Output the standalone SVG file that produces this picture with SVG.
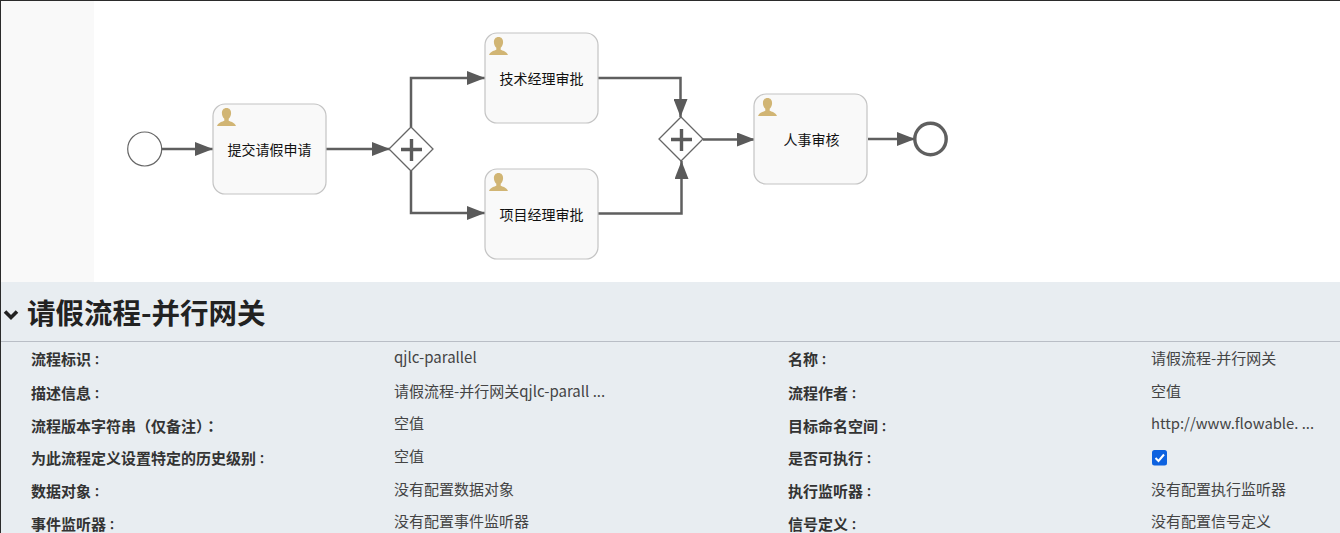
<svg xmlns="http://www.w3.org/2000/svg" width="1340" height="533" viewBox="0 0 1340 533">
<style>
text{font-family:"Noto Sans CJK SC","Noto Sans",sans-serif}
.task{fill:#f9f9f9;stroke:#c4c4c4;stroke-width:1.2}
.tl{font-size:14px;fill:#111;text-anchor:middle}
.gw{fill:#fff;stroke:#666;stroke-width:1.3}
.plus{stroke:#5a5a5a;stroke-width:3.4;fill:none}
.conn{fill:none;stroke:#5f5f5f;stroke-width:2.500}
.user{fill:#d1b574}
.k{font-size:15px;font-weight:700;fill:#333}
.v{font-size:15px;fill:#444}
.p{font-family:"Noto Sans CJK TC",sans-serif}
.c{font-family:"Noto Sans CJK TC",sans-serif;font-size:12px}
</style>
<defs>
<marker id="arr" markerUnits="userSpaceOnUse" markerWidth="19" markerHeight="14" refX="18" refY="7" orient="auto"><path d="M0 0L18 7L0 14Z" fill="#5a5a5a"/></marker>
<symbol id="u" viewBox="0 0 19 19" width="19" height="19"><path d="M9.500 0c3 0 4.600 2.300 4.600 5 0 2.400-1 4.600-2.400 5.700v2c1.500 1 6 1.500 7.300 5.300H0c1.300-3.800 5.800-4.300 7.300-5.300v-2C5.900 9.600 4.900 7.400 4.900 5c0-2.700 1.600-5 4.600-5z" class="user"/></symbol>
</defs>
<rect width="1340" height="533" fill="#fff"/>
<rect x="1" y="1" width="93" height="281" fill="#f9f9f9"/>
<rect x="1" y="282" width="1339" height="251" fill="#e8edf1"/>
<rect x="0" y="341" width="1340" height="1" fill="#b9bec6"/>
<rect x="0" y="0" width="1340" height="1" fill="#2b2b2b"/>
<rect x="0" y="0" width="1" height="533" fill="#2b2b2b"/>
<g id="connectors">
<path class="conn" marker-end="url(#arr)" d="M162 149H213"/>
<path class="conn" marker-end="url(#arr)" d="M326 149H390"/>
<path class="conn" marker-end="url(#arr)" d="M411 127V78H485"/>
<path class="conn" marker-end="url(#arr)" d="M411 171V213H485"/>
<path class="conn" marker-end="url(#arr)" d="M598 78H680.500V117"/>
<path class="conn" marker-end="url(#arr)" d="M598 213.500H681.500V161"/>
<path class="conn" marker-end="url(#arr)" d="M703 139.500H755"/>
<path class="conn" marker-end="url(#arr)" d="M868 139H915"/>
</g>
<g id="start"><circle cx="144.700" cy="149" r="17" fill="#fff" stroke="#666" stroke-width="1.200"/></g>
<g id="task1"><rect class="task" x="213" y="104" width="113" height="90" rx="12"/><use href="#u" x="217" y="108"/><text class="tl" x="269.500" y="154.500">提交请假申请</text></g>
<g id="gateway1"><path class="gw" d="M411 127L433 149L411 171L389 149Z"/><path class="plus" d="M411.500 139V161M401 149.500H422"/></g>
<g id="task2"><rect class="task" x="485" y="33" width="113" height="90" rx="12"/><use href="#u" x="489" y="37"/><text class="tl" x="541.500" y="83.500">技术经理审批</text></g>
<g id="task3"><rect class="task" x="485" y="169" width="113" height="90" rx="12"/><use href="#u" x="489" y="173"/><text class="tl" x="541.500" y="219.500">项目经理审批</text></g>
<g id="gateway2"><path class="gw" d="M681 117L703 139L681 161L659 139Z"/><path class="plus" d="M681.500 129V151M671 139.500H692"/></g>
<g id="task4"><rect class="task" x="754" y="94" width="113" height="90" rx="12"/><use href="#u" x="758" y="98"/><text class="tl" x="811.500" y="145">人事审核</text></g>
<g id="end"><circle cx="930.500" cy="139" r="15.700" fill="#fff" stroke="#5f5f5f" stroke-width="3.400"/></g>
<path d="M5 311.500L11 317.500L17 311.500" fill="none" stroke="#222" stroke-width="3.600"/>
<text x="27" y="324" font-size="28.500" font-weight="700" fill="#222">请假流程-并行网关</text>
<text class="k" x="31" y="365">流程标识<tspan class="c">：</tspan></text>
<text class="k" x="31" y="399">描述信息<tspan class="c">：</tspan></text>
<text class="k" x="31" y="432">流程版本字符串<tspan class="p">（</tspan>仅备注<tspan class="p">）：</tspan></text>
<text class="k" x="31" y="464">为此流程定义设置特定的历史级别<tspan class="c">：</tspan></text>
<text class="k" x="31" y="497">数据对象<tspan class="c">：</tspan></text>
<text class="k" x="31" y="530">事件监听器<tspan class="c">：</tspan></text>
<text class="v" x="394" y="363">qjlc-parallel</text>
<text class="v" x="394" y="397">请假流程-并行网关qjlc-parall ...</text>
<text class="v" x="394" y="429">空值</text>
<text class="v" x="394" y="462">空值</text>
<text class="v" x="394" y="495">没有配置数据对象</text>
<text class="v" x="394" y="527">没有配置事件监听器</text>
<text class="k" x="788" y="365">名称<tspan class="c">：</tspan></text>
<text class="k" x="788" y="399">流程作者<tspan class="c">：</tspan></text>
<text class="k" x="788" y="432">目标命名空间<tspan class="c">：</tspan></text>
<text class="k" x="788" y="464">是否可执行<tspan class="c">：</tspan></text>
<text class="k" x="788" y="497">执行监听器<tspan class="c">：</tspan></text>
<text class="k" x="788" y="530">信号定义<tspan class="c">：</tspan></text>
<text class="v" x="1151" y="364">请假流程-并行网关</text>
<text class="v" x="1151" y="397">空值</text>
<text class="v" x="1151" y="429" style="font-size:14.800px">http://www.flowable. ...</text>
<rect x="1152" y="450" width="15" height="15.500" rx="2.500" fill="#0d62e0"/>
<path d="M1155.500 458L1158.500 461L1164 454.500" fill="none" stroke="#fff" stroke-width="2"/>
<text class="v" x="1151" y="495">没有配置执行监听器</text>
<text class="v" x="1151" y="527">没有配置信号定义</text>
</svg>
